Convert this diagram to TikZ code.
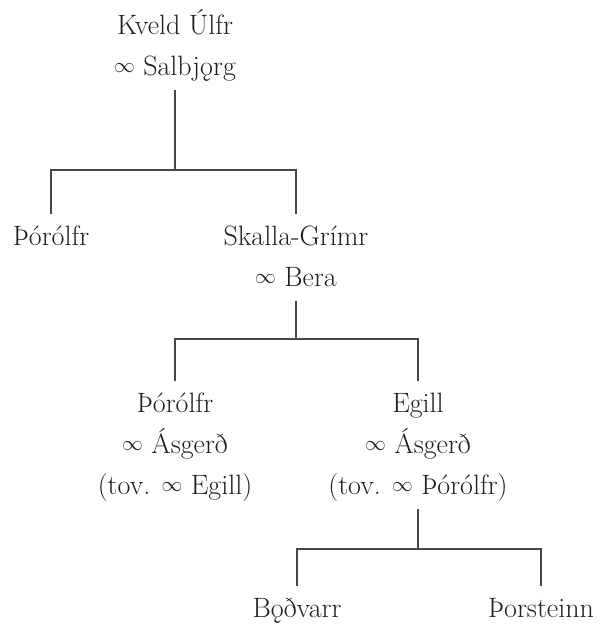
\documentclass[tikz,border=0pt]{standalone}
\usepackage{fontspec}
\newcommand\marr{\raisebox{2.2pt}{\fontsize{22}{41}\selectfont$\infty$}}
\begin{document}
\begin{tikzpicture}[x=1pt,y=1pt,
  person/.style={anchor=north, align=center, inner xsep=0pt, inner ysep=2pt,
    font=\fontsize{28}{41}\selectfont, text=black!88},
  link/.style={draw=black!72, line width=1.2pt}]
\useasboundingbox (0,0) rectangle (600,624);
\node[person] (kveld) at (175,620.7) {\strut Kveld Úlfr\\\strut \marr{} Salbjǫrg};
\node[person] (thorA) at (51,409.7) {\strut Þórólfr};
\node[person] (skalla) at (296,409.7) {\strut Skalla-Grímr\\\strut \marr{} Bera};
\node[person] (thorB) at (175,242.7) {\strut Þórólfr\\\strut \marr{} Ásgerð\\\strut (tov. \marr{} Egill)};
\node[person] (egill) at (418,242.7) {\strut Egill\\\strut \marr{} Ásgerð\\\strut (tov. \marr{} Þórólfr)};
\node[person] (bodvarr) at (297,37.7) {\strut Bǫðvarr};
\node[person] (thorsteinn) at (541,37.7) {\strut Þorsteinn};
\coordinate (b1) at (175,454);
\coordinate (b2) at (296,285);
\coordinate (b3) at (418,75);
\draw[link] (kveld.south) -- (b1);
\draw[link] (thorA.north) |- (b1) -| (skalla.north);
\draw[link] (skalla.south) -- (b2);
\draw[link] (thorB.north) |- (b2) -| (egill.north);
\draw[link] (egill.south) -- (b3);
\draw[link] (bodvarr.north) |- (b3) -| (thorsteinn.north);
\end{tikzpicture}
\end{document}
